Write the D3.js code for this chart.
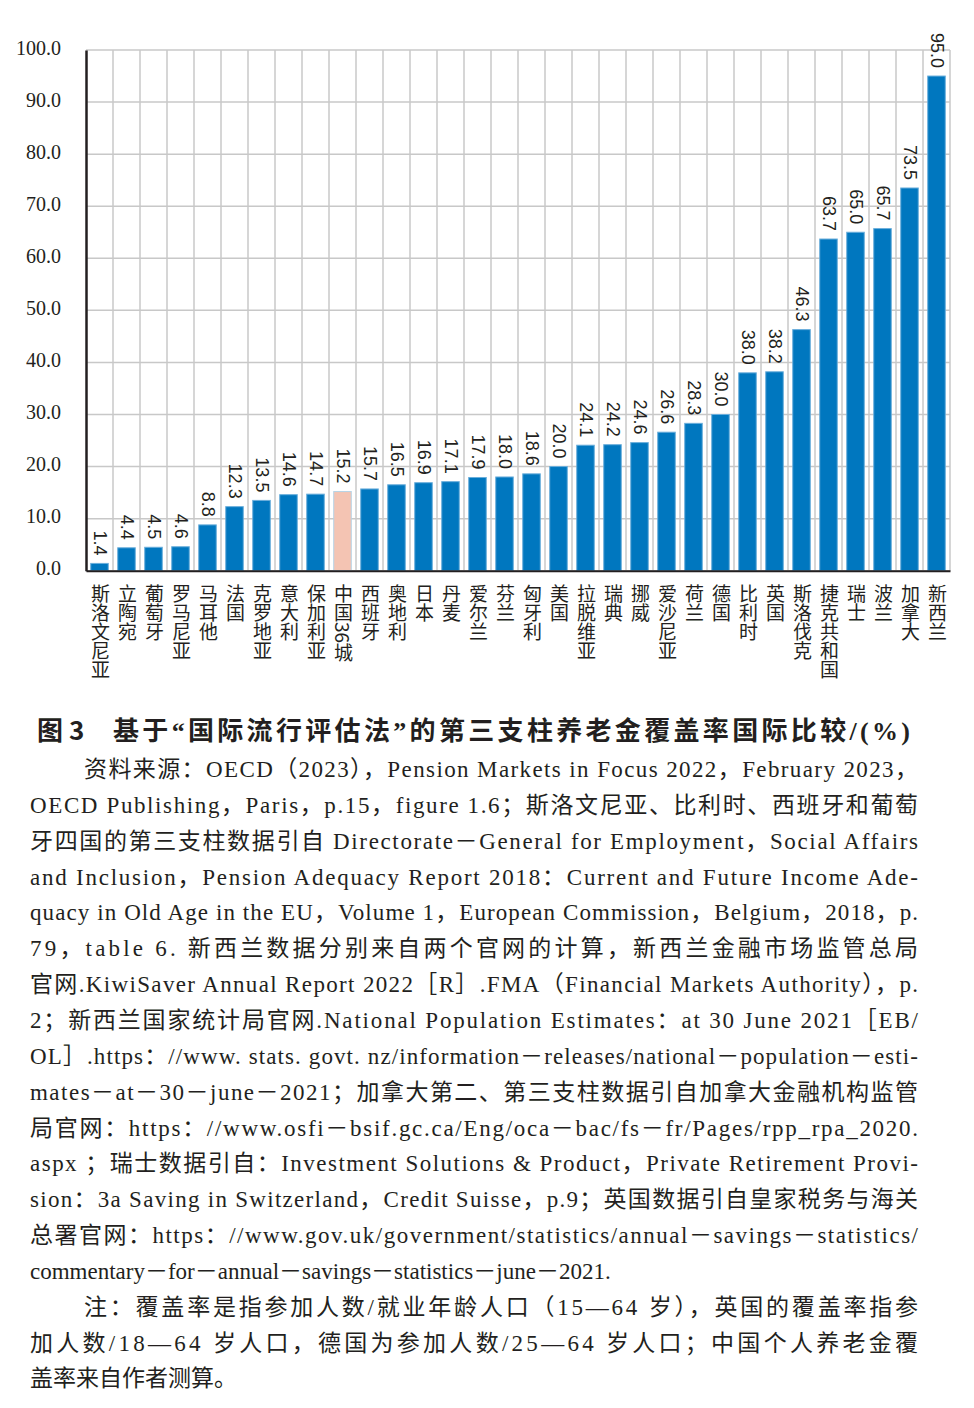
<!DOCTYPE html>
<html><head><meta charset="utf-8">
<script src="https://cdn.jsdelivr.net/npm/d3@7"></script>
<style>body{margin:0;background:#fff}</style>
</head><body>
<svg id="c" width="974" height="1408"></svg>
<script>
const categories = ["斯洛文尼亚","立陶宛","葡萄牙","罗马尼亚","马耳他","法国","克罗地亚","意大利","保加利亚","中国36城","西班牙","奥地利","日本","丹麦","爱尔兰","芬兰","匈牙利","美国","拉脱维亚","瑞典","挪威","爱沙尼亚","荷兰","德国","比利时","英国","斯洛伐克","捷克共和国","瑞士","波兰","加拿大","新西兰"];
const values = [1.4,4.4,4.5,4.6,8.8,12.3,13.5,14.6,14.7,15.2,15.7,16.5,16.9,17.1,17.9,18.0,18.6,20.0,24.1,24.2,24.6,26.6,28.3,30.0,38.0,38.2,46.3,63.7,65.0,65.7,73.5,95.0];
const highlightCategory = "中国36城";
const yTicks = [0,10,20,30,40,50,60,70,80,90,100];
const captionLabel = "图 3";
const captionTitle = "基于“国际流行评估法”的第三支柱养老金覆盖率国际比较/(%)";
const sourceLines = [
 "资料来源：OECD（2023），Pension Markets in Focus 2022，February 2023，",
 "OECD Publishing，Paris，p.15，figure 1.6；斯洛文尼亚、比利时、西班牙和葡萄",
 "牙四国的第三支柱数据引自 Directorate－General for Employment，Social Affairs",
 "and Inclusion，Pension Adequacy Report 2018：Current and Future Income Ade-",
 "quacy in Old Age in the EU，Volume 1，European Commission，Belgium，2018，p.",
 "79，table 6. 新西兰数据分别来自两个官网的计算，新西兰金融市场监管总局",
 "官网.KiwiSaver Annual Report 2022［R］.FMA（Financial Markets Authority），p.",
 "2；新西兰国家统计局官网.National Population Estimates：at 30 June 2021［EB/",
 "OL］.https：//www. stats. govt. nz/information－releases/national－population－esti-",
 "mates－at－30－june－2021；加拿大第二、第三支柱数据引自加拿大金融机构监管",
 "局官网：https：//www.osfi－bsif.gc.ca/Eng/oca－bac/fs－fr/Pages/rpp_rpa_2020.",
 "aspx ；瑞士数据引自：Investment Solutions & Product，Private Retirement Provi-",
 "sion：3a Saving in Switzerland，Credit Suisse，p.9；英国数据引自皇家税务与海关",
 "总署官网：https：//www.gov.uk/government/statistics/annual－savings－statistics/",
 "commentary－for－annual－savings－statistics－june－2021.",
 "注：覆盖率是指参加人数/就业年龄人口（15—64 岁），英国的覆盖率指参",
 "加人数/18—64 岁人口，德国为参加人数/25—64 岁人口；中国个人养老金覆",
 "盖率来自作者测算。"
];
const indentLines = [0, 15];
const paragraphEnds = [14, 17];

const svg = d3.select("#c");
const L = 86, R = 950, T = 50, B = 570.7;
const x = d3.scaleBand().domain(categories).range([L, R]).paddingInner(0.35).paddingOuter(0.175);
const y = d3.scaleLinear().domain([0, 100]).range([B, T]);
const step = x.step();
const grid = svg.append("g");
grid.selectAll("line.h").data(yTicks).join("line")
  .attr("x1", L).attr("x2", R).attr("y1", d => y(d)).attr("y2", d => y(d))
  .attr("stroke", "#c8c8c8").attr("stroke-width", 1.5);
const bounds = categories.map(c => x(c) - step * x.paddingOuter()).concat([R]);
grid.selectAll("line.v").data(bounds.slice(1)).join("line")
  .attr("x1", d => d).attr("x2", d => d).attr("y1", y(100)).attr("y2", y(0))
  .attr("stroke", "#c8c8c8").attr("stroke-width", 1.5);

svg.append("g").selectAll("rect").data(categories).join("rect")
  .attr("x", c => x(c)).attr("width", x.bandwidth())
  .attr("y", (c, i) => y(values[i])).attr("height", (c, i) => y(0) - y(values[i]))
  .attr("fill", c => c === highlightCategory ? "#f4c4b3" : "#0077bf")
  .attr("stroke", c => c === highlightCategory ? "#b5d3e6" : "#6aaedb")
  .attr("stroke-width", 1);

svg.append("g").selectAll("text").data(categories).join("text")
  .attr("transform", (c, i) => `translate(${x(c) + x.bandwidth() / 2},${y(values[i]) - 8}) rotate(90)`)
  .attr("text-anchor", "end").attr("dominant-baseline", "central")
  .attr("font-family", "'Liberation Sans', Arial, sans-serif").attr("font-size", 18)
  .attr("fill", "#231f20")
  .text((c, i) => d3.format(".1f")(values[i]));

const ya = svg.append("g").attr("transform", `translate(${L},0)`)
  .call(d3.axisLeft(y).tickValues(yTicks).tickFormat(d3.format(".1f")).tickSize(0).tickPadding(25));
ya.select(".domain").attr("stroke", "#231f20").attr("stroke-width", 2.5);
ya.selectAll("text").attr("font-family", "'Liberation Serif', serif").attr("font-size", 20).attr("fill", "#231f20").attr("dy", "0.2em");

const xa = svg.append("g").attr("transform", `translate(0,${B})`)
  .call(d3.axisBottom(x).tickSize(0).tickFormat(""));
xa.select(".domain").attr("stroke", "#231f20").attr("stroke-width", 2);

svg.append("g").selectAll("text").data(categories).join("text")
  .attr("x", c => x(c) + x.bandwidth() / 2 + 1).attr("y", 584)
  .attr("writing-mode", "vertical-rl")
  .style("writing-mode", "vertical-rl")
  .attr("font-family", "'Noto Sans CJK SC', sans-serif").attr("font-size", 19)
  .attr("fill", "#231f20")
  .text(c => c);

svg.append("text").attr("x", 37).attr("y", 740)
  .attr("font-family", "'Noto Sans CJK SC', sans-serif").attr("font-weight", 700).attr("font-size", 26)
  .attr("fill", "#231f20").text(captionLabel);
svg.append("text").attr("x", 113).attr("y", 740)
  .attr("font-family", "'Liberation Serif', 'Noto Sans CJK SC', sans-serif").attr("font-weight", 700).attr("font-size", 26)
  .attr("fill", "#231f20").attr("textLength", 797).attr("lengthAdjust", "spacing").text(captionTitle);

const tg = svg.append("g").attr("font-family", "'Liberation Serif', 'Noto Sans CJK SC', serif")
  .attr("font-size", 23).attr("fill", "#231f20");
sourceLines.forEach((s, i) => {
  const x0 = indentLines.includes(i) ? 84 : 30;
  const t = tg.append("text").attr("x", x0).attr("y", 777 + i * 35.85).text(s);
  if (!paragraphEnds.includes(i)) t.attr("textLength", 918 - x0).attr("lengthAdjust", "spacing");
});
</script>
</body></html>
